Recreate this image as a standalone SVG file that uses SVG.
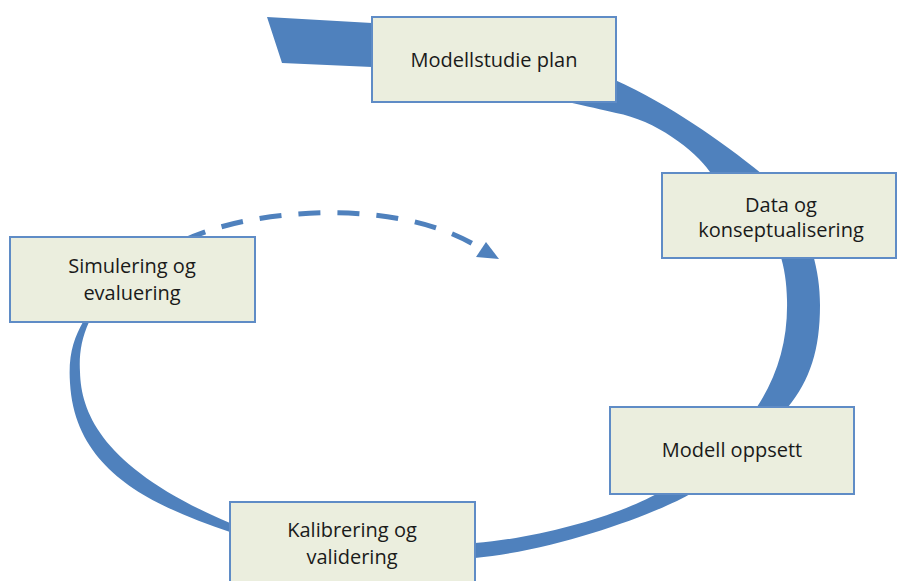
<svg xmlns="http://www.w3.org/2000/svg" width="898" height="581" viewBox="0 0 898 581">
<style>
.box{fill:#EBEEDE;stroke:#5F8CC6;stroke-width:2}
.lbl{font-family:"Open Sans","Liberation Sans",sans-serif;font-size:20px;fill:#1a1a1a;text-anchor:middle}
.band{fill:#4F81BD}
.dash{fill:none;stroke:#4F81BD;stroke-width:5;stroke-dasharray:22 17}
.head{fill:#4F81BD}
</style>
<rect width="898" height="581" fill="#ffffff"/>
<g id="connectors">
<path class="band" d="M267,17 L372,23 C450,30 560,55 615,80 C670,105 720,140 762,174 C795,200 820,250 820,305 C820,350 810,380 788,407 C770,430 730,470 692,493 C660,512 560,550 475,558 C400,565 290,555 230,532 C150,505 75,470 70,383 C68,355 74,338 83,322 L98,290 L108,292 L89,322 C81,340 79,355 80,372 C81,415 105,470 230,523 C300,545 400,548 475,543 C540,538 620,515 658,493 C690,475 735,440 757,407 C778,375 788,340 787,300 C786,240 760,205 710,172 C695,150 655,120 616,113 C560,100 450,75 372,67 L282,63 Z"/>
<path class="dash" d="M185,240 C255,207 400,198 478,247"/>
<polygon class="head" points="476,257 486,242 499,259"/>
</g>
<g id="n1">
<rect class="box" x="372" y="17" width="244" height="85"/>
<text class="lbl" x="494" y="67">Modellstudie plan</text>
</g>
<g id="n2">
<rect class="box" x="662" y="173" width="234" height="85"/>
<text class="lbl" x="781" y="212">Data og</text>
<text class="lbl" x="781" y="237">konseptualisering</text>
</g>
<g id="n3">
<rect class="box" x="610" y="407" width="244" height="87"/>
<text class="lbl" x="732" y="457">Modell oppsett</text>
</g>
<g id="n4">
<rect class="box" x="230" y="502" width="245" height="90"/>
<text class="lbl" x="352" y="537">Kalibrering og</text>
<text class="lbl" x="352" y="564">validering</text>
</g>
<g id="n5">
<rect class="box" x="10" y="237" width="245" height="85"/>
<text class="lbl" x="132" y="273">Simulering og</text>
<text class="lbl" x="132" y="300">evaluering</text>
</g>
</svg>
